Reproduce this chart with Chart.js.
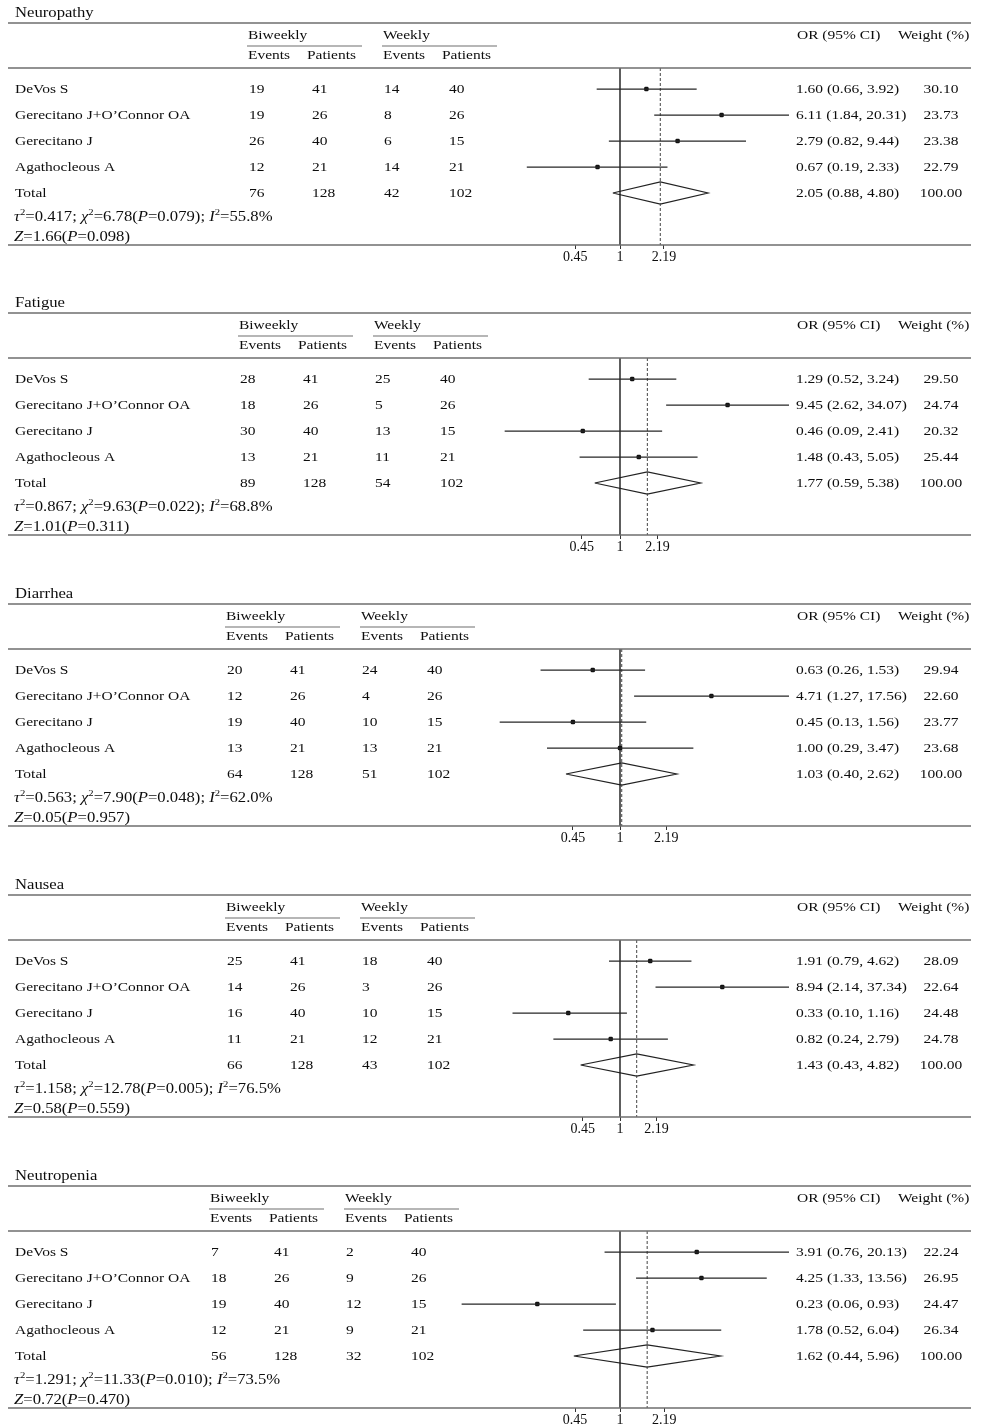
<!DOCTYPE html>
<html>
<head>
<meta charset="utf-8">
<script src="https://cdn.jsdelivr.net/npm/chart.js@4.4.1/dist/chart.umd.min.js"></script>
<style>
  html, body { margin: 0; padding: 0; background: #fff; overflow: hidden; }
  canvas.panel { position: absolute; left: 0; }
</style>
</head>
<body>
<script>
// ---- data ----
const outcomes = ['Neuropathy', 'Fatigue', 'Diarrhea', 'Nausea', 'Neutropenia'];
const studies = ['DeVos S', 'Gerecitano J+O\u2019Connor OA', 'Gerecitano J', 'Agathocleous A'];

const biweeklyEvents = [[19, 19, 26, 12], [28, 18, 30, 13], [20, 12, 19, 13], [25, 14, 16, 11], [7, 18, 19, 12]];
const biweeklyPatients = [[41, 26, 40, 21], [41, 26, 40, 21], [41, 26, 40, 21], [41, 26, 40, 21], [41, 26, 40, 21]];
const weeklyEvents = [[14, 8, 6, 14], [25, 5, 13, 11], [24, 4, 10, 13], [18, 3, 10, 12], [2, 9, 12, 9]];
const weeklyPatients = [[40, 26, 15, 21], [40, 26, 15, 21], [40, 26, 15, 21], [40, 26, 15, 21], [40, 26, 15, 21]];

const oddsRatio = [[1.60, 6.11, 2.79, 0.67], [1.29, 9.45, 0.46, 1.48], [0.63, 4.71, 0.45, 1.00], [1.91, 8.94, 0.33, 0.82], [3.91, 4.25, 0.23, 1.78]];
const ciLower = [[0.66, 1.84, 0.82, 0.19], [0.52, 2.62, 0.09, 0.43], [0.26, 1.27, 0.13, 0.29], [0.79, 2.14, 0.10, 0.24], [0.76, 1.33, 0.06, 0.52]];
const ciUpper = [[3.92, 20.31, 9.44, 2.33], [3.24, 34.07, 2.41, 5.05], [1.53, 17.56, 1.56, 3.47], [4.62, 37.34, 1.16, 2.79], [20.13, 13.56, 0.93, 6.04]];
const weights = [[30.10, 23.73, 23.38, 22.79], [29.50, 24.74, 20.32, 25.44], [29.94, 22.60, 23.77, 23.68], [28.09, 22.64, 24.48, 24.78], [22.24, 26.95, 24.47, 26.34]];

const totalBiweeklyEvents = [76, 89, 64, 66, 56];
const totalBiweeklyPatients = [128, 128, 128, 128, 128];
const totalWeeklyEvents = [42, 54, 51, 43, 32];
const totalWeeklyPatients = [102, 102, 102, 102, 102];
const pooledOR = [2.05, 1.77, 1.03, 1.43, 1.62];
const pooledLower = [0.88, 0.59, 0.40, 0.43, 0.44];
const pooledUpper = [4.80, 5.38, 2.62, 4.82, 5.96];

const tau2 = ['0.417', '0.867', '0.563', '1.158', '1.291'];
const chi2 = ['6.78', '9.63', '7.90', '12.78', '11.33'];
const chi2P = ['0.079', '0.022', '0.048', '0.005', '0.010'];
const iSquared = ['55.8', '68.8', '62.0', '76.5', '73.5'];
const zValue = ['1.66', '1.01', '0.05', '0.58', '0.72'];
const zP = ['0.098', '0.311', '0.957', '0.559', '0.470'];

const xTicks = [0.45, 1, 2.19];

// ---- layout ----
const W = 989, H = 268;
const panelTop = [0, 290, 581, 872, 1163];
const colShift = [0, -9, -22, -22, -38];
const Y_TOP = -0.81, Y_BOTTOM = 6.0;
const SX = 1.19;               // the source figure is stretched sideways
const FONT = '"Liberation Serif", "Times New Roman", serif';
const INK = '#0d0d0d';

function txt(ctx, s, x, y, align, opts) {
    opts = opts || {};
    ctx.save();
    ctx.font = (opts.italic ? 'italic ' : '') + (opts.size || 13) + 'px ' + FONT;
    ctx.fillStyle = INK;
    ctx.textAlign = align || 'left';
    ctx.textBaseline = 'middle';
    ctx.translate(x, y);
    ctx.scale(SX, 1);
    ctx.fillText(s, 0, 0);
    ctx.restore();
}

function richTxt(ctx, parts, x, y) {
    let cx = x;
    parts.forEach(part => {
        const size = part.sup ? 9 : 14;
        ctx.save();
        ctx.font = (part.it ? 'italic ' : '') + size + 'px ' + FONT;
        const w = ctx.measureText(part.t).width * SX;
        ctx.restore();
        txt(ctx, part.t, cx, part.sup ? y - 4 : y, 'left', { italic: part.it, size: size });
        cx += w;
    });
}

function hline(ctx, x1, x2, y) {
    ctx.beginPath();
    ctx.moveTo(x1, y);
    ctx.lineTo(x2, y);
    ctx.stroke();
}

const forestTable = {
    id: 'forestTable',
    afterDraw(chart) {
        const p = chart.options.plugins.forestTable.panel;
        const ctx = chart.ctx;
        const ys = chart.scales.y;
        const area = chart.chartArea;
        const B = 248 + colShift[p];

        ctx.save();
        ctx.strokeStyle = '#6e6e6e';
        ctx.lineWidth = 1.5;
        hline(ctx, 8, 971, 23);
        hline(ctx, 8, 971, area.top);
        hline(ctx, 8, 971, area.bottom);
        ctx.lineWidth = 1.2;
        hline(ctx, B - 1, B + 114, 46);
        hline(ctx, B + 134, B + 249, 46);
        ctx.restore();

        txt(ctx, outcomes[p], 15, 13, 'left', { size: 14 });
        txt(ctx, 'Biweekly', B, 36);
        txt(ctx, 'Weekly', B + 135, 36);
        txt(ctx, 'Events', B, 56);
        txt(ctx, 'Patients', B + 59, 56);
        txt(ctx, 'Events', B + 135, 56);
        txt(ctx, 'Patients', B + 194, 56);
        txt(ctx, 'OR (95% CI)', 797, 36);
        txt(ctx, 'Weight (%)', 898, 36);

        const rows = studies.map((s, i) => [s, biweeklyEvents[p][i], biweeklyPatients[p][i], weeklyEvents[p][i], weeklyPatients[p][i],
            oddsRatio[p][i], ciLower[p][i], ciUpper[p][i], weights[p][i]]);
        rows.push(['Total', totalBiweeklyEvents[p], totalBiweeklyPatients[p], totalWeeklyEvents[p], totalWeeklyPatients[p],
            pooledOR[p], pooledLower[p], pooledUpper[p], 100]);

        rows.forEach((r, i) => {
            const y = ys.getPixelForValue(i) + 1;
            txt(ctx, r[0], 15, y);
            txt(ctx, String(r[1]), B + 1, y);
            txt(ctx, String(r[2]), B + 64, y);
            txt(ctx, String(r[3]), B + 136, y);
            txt(ctx, String(r[4]), B + 201, y);
            txt(ctx, r[5].toFixed(2) + ' (' + r[6].toFixed(2) + ', ' + r[7].toFixed(2) + ')', 796, y);
            txt(ctx, r[8].toFixed(2), 941, y, 'center');
        });

        richTxt(ctx, [
            { t: '\u03c4', it: true }, { t: '2', sup: true }, { t: '=' + tau2[p] + '; ' },
            { t: '\u03c7', it: true }, { t: '2', sup: true }, { t: '=' + chi2[p] + '(' },
            { t: 'P', it: true }, { t: '=' + chi2P[p] + '); ' },
            { t: 'I', it: true }, { t: '2', sup: true }, { t: '=' + iSquared[p] + '%' }
        ], 14, 217);
        richTxt(ctx, [
            { t: 'Z', it: true }, { t: '=' + zValue[p] + '(' }, { t: 'P', it: true }, { t: '=' + zP[p] + ')' }
        ], 14, 237);
    }
};

outcomes.forEach((name, p) => {
    const canvas = document.createElement('canvas');
    canvas.className = 'panel';
    canvas.width = W;
    canvas.height = H;
    canvas.style.top = panelTop[p] + 'px';
    document.body.appendChild(canvas);

    const xMax = Math.max(...ciUpper[p]);
    const nStudies = studies.length;
    const datasets = [];

    // confidence intervals
    studies.forEach((s, i) => {
        datasets.push({
            type: 'line',
            data: [{ x: ciLower[p][i], y: i }, { x: ciUpper[p][i], y: i }],
            borderColor: '#262626',
            borderWidth: 1.2,
            pointRadius: 0
        });
    });
    // point estimates
    datasets.push({
        type: 'scatter',
        data: oddsRatio[p].map((v, i) => ({ x: v, y: i })),
        pointStyle: 'rectRounded',
        pointRadius: 2.6,
        backgroundColor: '#111',
        borderColor: '#111',
        borderWidth: 0
    });
    // line of no effect
    datasets.push({
        type: 'line',
        data: [{ x: 1, y: Y_TOP }, { x: 1, y: Y_BOTTOM }],
        borderColor: '#1a1a1a',
        borderWidth: 1.4,
        pointRadius: 0
    });
    // pooled estimate
    datasets.push({
        type: 'line',
        data: [{ x: pooledOR[p], y: Y_TOP }, { x: pooledOR[p], y: Y_BOTTOM }],
        borderColor: '#444',
        borderWidth: 1,
        borderDash: [3, 2],
        pointRadius: 0
    });
    // pooled diamond
    datasets.push({
        type: 'line',
        data: [
            { x: pooledLower[p], y: nStudies },
            { x: pooledOR[p], y: nStudies - 0.43 },
            { x: pooledUpper[p], y: nStudies },
            { x: pooledOR[p], y: nStudies + 0.43 },
            { x: pooledLower[p], y: nStudies }
        ],
        borderColor: '#222',
        borderWidth: 1.2,
        pointRadius: 0,
        fill: false,
        tension: 0
    });

    new Chart(canvas.getContext('2d'), {
        type: 'line',
        data: { datasets: datasets },
        options: {
            responsive: false,
            animation: false,
            layout: { padding: { left: 451, right: W - 789, top: 68, bottom: 3 } },
            scales: {
                x: {
                    type: 'logarithmic',
                    min: 1 / xMax,
                    max: xMax,
                    afterBuildTicks: (scale) => { scale.ticks = xTicks.map(v => ({ value: v })); },
                    afterFit: (scale) => { scale.height = 20; },
                    ticks: {
                        callback: (v) => String(v),
                        autoSkip: false,
                        maxRotation: 0,
                        padding: 0,
                        color: INK,
                        font: { family: FONT, size: 14 }
                    },
                    grid: { drawOnChartArea: false, drawTicks: true, tickLength: 4, color: '#333' },
                    border: { display: false }
                },
                y: {
                    type: 'linear',
                    reverse: true,
                    min: Y_TOP,
                    max: Y_BOTTOM,
                    display: false
                }
            },
            plugins: {
                legend: { display: false },
                tooltip: { enabled: false },
                forestTable: { panel: p }
            }
        },
        plugins: [forestTable]
    });
});
</script>
</body>
</html>
